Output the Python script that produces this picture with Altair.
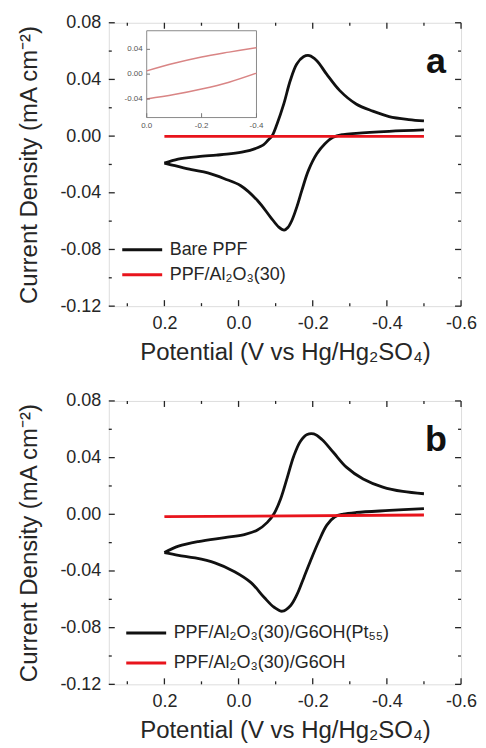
import altair as alt
import pandas as pd

# ---------------- data ----------------
# Panel a: Bare PPF cyclic voltammogram, forward (0.2 -> -0.5 V) and reverse branches
A_BARE_FWD_E = [0.20, 0.163, 0.109, 0.06, 0.02, -0.015, -0.045, -0.067, -0.08, -0.091, -0.104,
                -0.122, -0.1395, -0.157, -0.175, -0.191, -0.211, -0.237, -0.273, -0.317, -0.362,
                -0.406, -0.459, -0.50]
A_BARE_FWD_J = [-0.0191, -0.0162, -0.0145, -0.0134, -0.0124, -0.0110, -0.0088, -0.0062, -0.0028,
                0.0004, 0.0087, 0.0227, 0.0392, 0.0509, 0.0560, 0.0568, 0.0532, 0.0439, 0.0321,
                0.0227, 0.0176, 0.0138, 0.0117, 0.0108]
A_BARE_REV_E = [-0.50, -0.406, -0.317, -0.282, -0.255, -0.233, -0.211, -0.1885, -0.1707, -0.157,
                -0.144, -0.133, -0.123, -0.1085, -0.086, -0.051, -0.006, 0.038, 0.083, 0.127,
                0.1715, 0.20]
A_BARE_REV_J = [0.0044, 0.0034, 0.0020, 0.0011, -0.0008, -0.0054, -0.0125, -0.0242, -0.0383,
                -0.0501, -0.0594, -0.0645, -0.0663, -0.0642, -0.0571, -0.0454, -0.0350, -0.0301,
                -0.0260, -0.0237, -0.0209, -0.0191]
A_RED_E = [0.20, -0.50]
A_RED_J = [-0.0002, -0.0002]

# Inset of panel a (PPF/Al2O3(30) curve magnified)
INSET_E = [0.0, -0.1, -0.2, -0.3, -0.4]
INSET_UP_J = [0.0053, 0.0175, 0.0277, 0.0355, 0.0426]
INSET_DN_J = [-0.0400, -0.0330, -0.0240, -0.0130, 0.0016]
INSET_X_TICKS = [0.0, -0.2, -0.4]
INSET_X_LABELS = ["0.0", "-0.2", "-0.4"]
INSET_Y_TICKS = [0.04, 0.00, -0.04]
INSET_Y_LABELS = ["0.04", "0.00", "-0.04"]

# Panel b: PPF/Al2O3(30)/G6OH(Pt55)
B_FWD_E = [0.20, 0.162, 0.1085, 0.0373, -0.0155, -0.051, -0.0775, -0.096, -0.1136, -0.1315,
           -0.149, -0.167, -0.185, -0.2027, -0.2248, -0.256, -0.2915, -0.336, -0.389, -0.443, -0.50]
B_FWD_J = [-0.0270, -0.0225, -0.0192, -0.0164, -0.0143, -0.0111, -0.0057, 0.0006, 0.0110, 0.0261,
           0.0412, 0.0516, 0.0563, 0.0567, 0.0528, 0.0436, 0.0331, 0.0249, 0.0192, 0.0161, 0.0145]
B_REV_E = [-0.50, -0.407, -0.318, -0.282, -0.260, -0.238, -0.216, -0.1936, -0.176, -0.158, -0.140,
           -0.118, -0.096, -0.0693, -0.0336, 0.0107, 0.064, 0.117, 0.162, 0.20]
B_REV_J = [0.0040, 0.0027, 0.0013, 0.0001, -0.0017, -0.0076, -0.0192, -0.0331, -0.0447, -0.0564,
           -0.0645, -0.0684, -0.0656, -0.0587, -0.0482, -0.0405, -0.0343, -0.0308, -0.0289, -0.0270]
B_RED_E = [0.20, -0.50]
B_RED_J = [-0.0016, -0.0005]

A_SERIES = ["Bare PPF", "PPF/Al\u2082O\u2083(30)"]
B_SERIES = ["PPF/Al\u2082O\u2083(30)/G6OH(Pt\u2085\u2085)", "PPF/Al\u2082O\u2083(30)/G6OH"]

X_DOMAIN = [-0.6, 0.35]
Y_DOMAIN = [-0.12, 0.08]
X_MAJOR = [0.2, 0.0, -0.2, -0.4, -0.6]
X_MINOR = [0.3, 0.1, -0.1, -0.3, -0.5]
Y_MAJOR = [0.08, 0.04, 0.0, -0.04, -0.08, -0.12]
Y_MINOR = [0.06, 0.02, -0.02, -0.06, -0.10]

X_TITLE = "Potential (V vs Hg/Hg\u2082SO\u2084)"
Y_TITLE = "Current Density (mA cm\u207b\u00b2)"

# ---------------- styling ----------------
FONT = "Liberation Sans"
TXT = "#262626"
BLACK = "#111111"
RED = "#e8141c"
INSET_RED = "#d98585"
W, H = 353, 284


def cv_rows(name, fE, fJ, rE, rJ):
    rows = [dict(series=name, branch=name + " f", E=e, J=j, i=k) for k, (e, j) in enumerate(zip(fE, fJ))]
    rows += [dict(series=name, branch=name + " r", E=e, J=j, i=k) for k, (e, j) in enumerate(zip(rE, rJ))]
    return rows


def panel(series, black, red, legend_x, legend_y, row_pad, letter):
    xs = alt.Scale(domain=X_DOMAIN, reverse=True, nice=False, zero=False)
    ys = alt.Scale(domain=Y_DOMAIN, nice=False, zero=False)
    xaxis = alt.Axis(title=X_TITLE, values=X_MAJOR,
                     labelExpr="replace(format(datum.value, '.1f'), '\u2212', '-')",
                     labelFlush=False, ticks=False, tickSize=0, domain=False, grid=False,
                     labelFont=FONT, labelFontSize=18, labelColor=TXT, labelPadding=8,
                     titleFont=FONT, titleFontSize=24, titleFontWeight="normal",
                     titleColor=TXT, titlePadding=8)
    yaxis = alt.Axis(title=Y_TITLE, values=Y_MAJOR,
                     labelExpr="replace(format(datum.value, '.2f'), '\u2212', '-')",
                     ticks=False, tickSize=0, domain=False, grid=False,
                     labelFont=FONT, labelFontSize=18, labelColor=TXT, labelPadding=8,
                     titleFont=FONT, titleFontSize=24, titleFontWeight="normal",
                     titleColor=TXT, titlePadding=18)
    X = alt.X("E:Q", scale=xs, axis=xaxis)
    Y = alt.Y("J:Q", scale=ys, axis=yaxis)
    color = alt.Color("series:N",
                      scale=alt.Scale(domain=series, range=[BLACK, RED]),
                      legend=alt.Legend(orient="none", legendX=legend_x, legendY=legend_y,
                                        title=None, symbolType="M-2,0H2", symbolSize=400,
                                        symbolStrokeWidth=3, labelFont=FONT, labelFontSize=18,
                                        labelColor=TXT, labelOffset=16, rowPadding=row_pad,
                                        labelLimit=500, padding=0))

    black_line = alt.Chart(pd.DataFrame(black)).mark_line(
        strokeWidth=2.8, interpolate="catmull-rom").encode(
        x=X, y=Y, detail="branch:N", order="i:Q", color=color)
    red_line = alt.Chart(pd.DataFrame(red)).mark_line(strokeWidth=2.8).encode(
        x=X, y=Y, detail="branch:N", order="i:Q", color=color)

    ticks = []
    for vals, L in ((X_MAJOR, 6), (X_MINOR, 3)):
        base = alt.Chart(pd.DataFrame({"E": vals})).mark_rule(color=TXT, strokeWidth=1.3)
        ticks.append(base.encode(x=X, y=alt.value(H), y2=alt.value(H - L)))
        ticks.append(base.encode(x=X, y=alt.value(0), y2=alt.value(L)))
    for vals, L in ((Y_MAJOR, 6), (Y_MINOR, 3)):
        base = alt.Chart(pd.DataFrame({"J": vals})).mark_rule(color=TXT, strokeWidth=1.3)
        ticks.append(base.encode(y=Y, x=alt.value(0), x2=alt.value(L)))
        ticks.append(base.encode(y=Y, x=alt.value(W), x2=alt.value(W - L)))

    letter_layer = alt.Chart(pd.DataFrame({"t": [letter]})).mark_text(
        font=FONT, fontSize=36, fontWeight="bold", color="#111111",
        align="center", baseline="alphabetic").encode(
        text="t:N", x=alt.value(W - 25), y=alt.value(50))

    return alt.layer(black_line, red_line, *ticks, letter_layer)


def inset_layer():
    ixs = alt.Scale(domain=[-0.4, 0.0], range=[148, 38], nice=False, zero=False)
    iys = alt.Scale(domain=[-0.07, 0.07], range=[95, 8], nice=False, zero=False)
    IX = alt.X("E:Q", scale=ixs, axis=None)
    IY = alt.Y("J:Q", scale=iys, axis=None)

    frame = alt.Chart(pd.DataFrame({"E": [0.0], "E2": [-0.4], "J": [-0.07], "J2": [0.07]})).mark_rect(
        fill="white", stroke="#8a8a8a", strokeWidth=1).encode(x=IX, x2="E2:Q", y=IY, y2="J2:Q")

    rows = [dict(b="up", E=e, J=j, i=k) for k, (e, j) in enumerate(zip(INSET_E, INSET_UP_J))]
    rows += [dict(b="dn", E=e, J=j, i=k) for k, (e, j) in enumerate(zip(INSET_E, INSET_DN_J))]
    curves = alt.Chart(pd.DataFrame(rows)).mark_line(
        color=INSET_RED, strokeWidth=1.5, interpolate="catmull-rom").encode(
        x=IX, y=IY, detail="b:N", order="i:Q")

    ylab = alt.Chart(pd.DataFrame({"J": INSET_Y_TICKS, "t": INSET_Y_LABELS})).mark_text(
        font=FONT, fontSize=8, color="#555555", align="right", baseline="middle", dx=-4).encode(
        x=alt.X(datum=0.0, type="quantitative", scale=ixs, axis=None), y=IY, text="t:N")
    xlab = alt.Chart(pd.DataFrame({"E": INSET_X_TICKS, "t": INSET_X_LABELS})).mark_text(
        font=FONT, fontSize=8, color="#555555", align="center", baseline="top", dy=4).encode(
        x=IX, y=alt.Y(datum=-0.07, type="quantitative", scale=iys, axis=None), text="t:N")

    ytk = alt.Chart(pd.DataFrame({"J": INSET_Y_TICKS})).mark_rule(color="#777777", strokeWidth=1).encode(
        y=IY, x=alt.X(datum=0.0, type="quantitative", scale=ixs, axis=None),
        x2=alt.X2(datum=-0.012))
    xtk = alt.Chart(pd.DataFrame({"E": INSET_X_TICKS})).mark_rule(color="#777777", strokeWidth=1).encode(
        x=IX, y=alt.Y(datum=-0.07, type="quantitative", scale=iys, axis=None),
        y2=alt.Y2(datum=-0.063))

    return alt.layer(frame, curves, ytk, xtk, ylab, xlab)


a_rows = cv_rows(A_SERIES[0], A_BARE_FWD_E, A_BARE_FWD_J, A_BARE_REV_E, A_BARE_REV_J)
a_red = [dict(series=A_SERIES[1], branch="red", E=e, J=j, i=k) for k, (e, j) in enumerate(zip(A_RED_E, A_RED_J))]
b_rows = cv_rows(B_SERIES[0], B_FWD_E, B_FWD_J, B_REV_E, B_REV_J)
b_red = [dict(series=B_SERIES[1], branch="red", E=e, J=j, i=k) for k, (e, j) in enumerate(zip(B_RED_E, B_RED_J))]

main_a = panel(A_SERIES, a_rows, a_red, 22, 216, 4, "a")
panel_a = alt.layer(main_a, inset_layer()).resolve_scale(
    x="independent", y="independent").properties(width=W, height=H)

main_b = panel(B_SERIES, b_rows, b_red, 26, 221, 9, "b")
panel_b = main_b.properties(width=W, height=H)

chart = alt.vconcat(panel_a, panel_b, spacing=26).resolve_scale(
    color="independent", x="independent", y="independent").properties(
    padding={"left": 9, "top": 4, "right": 0, "bottom": 0}
).configure_view(stroke=TXT, strokeWidth=1.5).configure(font=FONT)

chart.save("out.html", embed_options={"renderer": "svg", "actions": False})
